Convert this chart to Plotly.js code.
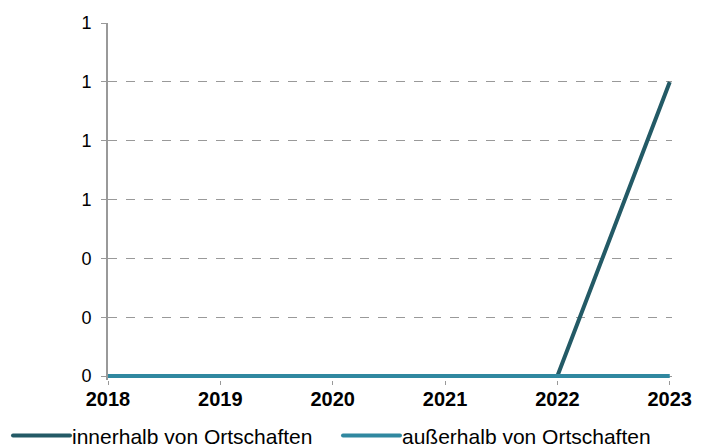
<!DOCTYPE html>
<html>
<head>
<meta charset="utf-8">
<script src="https://cdn.plot.ly/plotly-3.0.1.min.js"></script>
<style>html,body{margin:0;padding:0;background:#fff;}#chart{width:708px;height:448px;}</style>
</head>
<body>
<div id="chart"></div>
<script>
var years = [2018, 2019, 2020, 2021, 2022, 2023];
var innerhalb = [0, 0, 0, 0, 0, 1];
var ausserhalb = [0, 0, 0, 0, 0, 0];
var seriesNames = ['innerhalb von Ortschaften', 'außerhalb von Ortschaften'];
var yTicks = [0, 0.2, 0.4, 0.6, 0.8, 1.0, 1.2];

var traces = [
  {x: years, y: innerhalb, name: seriesNames[0], type: 'scatter', mode: 'lines',
   line: {color: '#235a66', width: 4}},
  {x: years, y: ausserhalb, name: seriesNames[1], type: 'scatter', mode: 'lines',
   line: {color: '#3088a0', width: 4}}
];

var ENTRY = 220, SPACING = 330;

var layout = {
  width: 708, height: 448,
  margin: {l: 108, r: 36, t: 23, b: 68},
  paper_bgcolor: '#fff', plot_bgcolor: '#fff',
  font: {family: '"Liberation Sans", Arial, sans-serif', color: '#000'},
  xaxis: {
    range: [2018, 2023.02],
    tickvals: years, ticktext: years.map(String),
    tickfont: {size: 20, weight: 'bold', color: '#000'},
    ticklabelstandoff: -3,
    showgrid: false, zeroline: false, showline: false,
    ticks: 'outside', ticklen: 4, tickcolor: '#999', tickwidth: 1
  },
  yaxis: {
    range: [-0.0135, 1.2005],
    tickvals: yTicks, tickformat: '.0f',
    tickfont: {size: 18, color: '#000'},
    ticklabelstandoff: 6,
    showgrid: true, gridcolor: '#999', griddash: 'dash', gridwidth: 1,
    zeroline: false, showline: true, linecolor: '#999', linewidth: 2,
    ticks: 'outside', ticklen: 5, tickcolor: '#999'
  },
  showlegend: true,
  legend: {
    orientation: 'h', xref: 'container', yref: 'container',
    x: 0, xanchor: 'left', y: 0.027, yanchor: 'middle',
    bgcolor: 'rgba(0,0,0,0)',
    font: {size: 21, color: '#000'},
    entrywidth: ENTRY, entrywidthmode: 'pixels'
  }
};

function parseT(el) {
  var t = el.getAttribute('transform') || '';
  var m = t.match(/translate\(\s*([-\d.e]+)[ ,]*([-\d.e]*)\s*\)/);
  return m ? [parseFloat(m[1]), parseFloat(m[2] || 0)] : [0, 0];
}

Plotly.newPlot('chart', traces, layout, {displayModeBar: false, staticPlot: true}).then(function (gd) {
  gd.querySelectorAll('.legendlines path').forEach(function (p) {
    p.setAttribute('d', 'M-19,0h57');
    p.style.strokeLinecap = 'round';
  });
  var leg = gd.querySelector('g.legend');
  if (leg) {
    leg.removeAttribute('clip-path');
    leg.querySelectorAll('[clip-path]').forEach(function (el) { el.removeAttribute('clip-path'); });
    var lt = parseT(leg);
    leg.setAttribute('transform', 'translate(' + (lt[0] + 32) + ',' + lt[1] + ')');
    var items = leg.querySelectorAll('g.traces');
    items.forEach(function (it, i) {
      if (i > 0) {
        var tt = parseT(it);
        it.setAttribute('transform', 'translate(' + (tt[0] + i * (SPACING - ENTRY - 45)) + ',' + tt[1] + ')');
      }
    });
  }
});
</script>
</body>
</html>
